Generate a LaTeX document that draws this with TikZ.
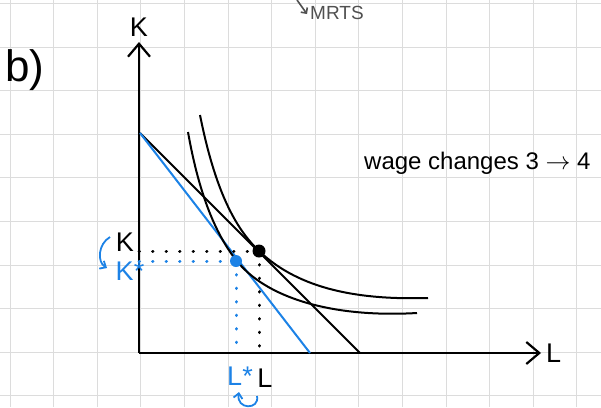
\documentclass[tikz,border=0pt]{standalone}
\usepackage{fontspec}
\setmainfont{Liberation Sans}
\usetikzlibrary{arrows.meta, positioning}
\definecolor{penblue}{HTML}{1C82E6}
\definecolor{gridgray}{HTML}{DCDCDC}
\definecolor{pencilgray}{HTML}{505050}

\begin{document}
\begin{tikzpicture}[
    x=1pt, y=-1pt,
    gridline/.style={draw=gridgray, line width=1pt},
    axis/.style={line width=2.2pt, -{Straight Barb[length=13pt, width=22pt]}},
    budget/.style={line width=2pt},
    isoquant/.style={line width=2pt},
    dot/.style={circle, fill=black, inner sep=0pt, minimum size=13pt},
    guide/.style={line width=3pt, line cap=round, dash pattern=on 0.5pt off 13pt},
    hand/.style={font=\fontsize{27}{27}\selectfont, inner sep=1pt},
    curl/.style={penblue, line width=1.8pt, -{Straight Barb[length=5pt, width=9pt]}},
]
\useasboundingbox (0,0) rectangle (601,407);

% Grid paper
\foreach \i in {0,...,13}
    \draw[gridline] ({10+43.6*\i},0) -- ({10+43.6*\i},407);
\foreach \j in {0,...,9}
    \draw[gridline] (0,{3.5+43.6*\j}) -- (601,{3.5+43.6*\j});

% Axes
\coordinate (O) at (139,353);
\coordinate (Ktop) at (139,42);
\coordinate (Lend) at (541,353);
\draw[axis] (O) -- (Ktop);
\draw[axis] (O) -- (Lend);
\node[hand, above=4pt of Ktop] (klab) {K};
\node[hand, right=4pt of Lend] (llab) {L};

% Budget lines
\coordinate (A) at (140,133);
\coordinate (B0) at (360,353);
\coordinate (B1) at (310,353);
\draw[budget] (A) -- (B0);
\draw[budget, penblue] (A) -- (B1);

% Isoquants
\draw[isoquant] (200,115) .. controls (215,190) and (235,228) .. (259,251)
    .. controls (300,290) and (360,300) .. (428,298);
\draw[isoquant] (188,132) .. controls (200,200) and (218,237) .. (236,260)
    .. controls (265,297) and (330,318) .. (417,313);

% Optimal points
\node[dot] (E0) at (259,251) {};
\node[dot, fill=penblue, minimum size=12pt] (E1) at (236,261) {};
\draw[guide] (O |- E0) -- (E0.center);
\draw[guide] (E0.center) -- ([yshift=4pt]E0 |- O);
\draw[guide, penblue] (O |- E1) -- (E1.center);
\draw[guide, penblue] (E1.center) -- (236,350);

% Labels
\node[hand] (k0) at (125,242) {K};
\node[hand, text=penblue] (k1) at (130,271) {K*};
\node[hand, text=penblue] (l1) at (240,376) {L*};
\node[hand] (l0) at (265,378) {L};
\coordinate (c1) at (110,237);
\coordinate (c2) at (107,268);
\draw[curl] (c1) .. controls (98,244) and (97,262) .. (c2);
\coordinate (c3) at (257,396);
\coordinate (c4) at (239,392);
\draw[curl] (c3) .. controls (260,410) and (236,410) .. (c4);

\node[font=\fontsize{44}{44}\selectfont, inner sep=0pt] (part) at (25,70) {b)};
\node[font=\fontsize{24}{24}\selectfont, anchor=west, inner sep=0pt] (note) at (364,163) {wage changes 3 $\rightarrow$ 4};
\coordinate (m1) at (297,0);
\coordinate (m2) at (307,14);
\draw[pencilgray, line width=1.6pt, -{Straight Barb[length=4pt, width=8pt]}] (m1) -- (m2);
\node[font=\fontsize{19}{19}\selectfont, text=pencilgray, anchor=west, inner sep=0pt] (mrts) at (310,13) {MRTS};

\end{tikzpicture}
\end{document}
